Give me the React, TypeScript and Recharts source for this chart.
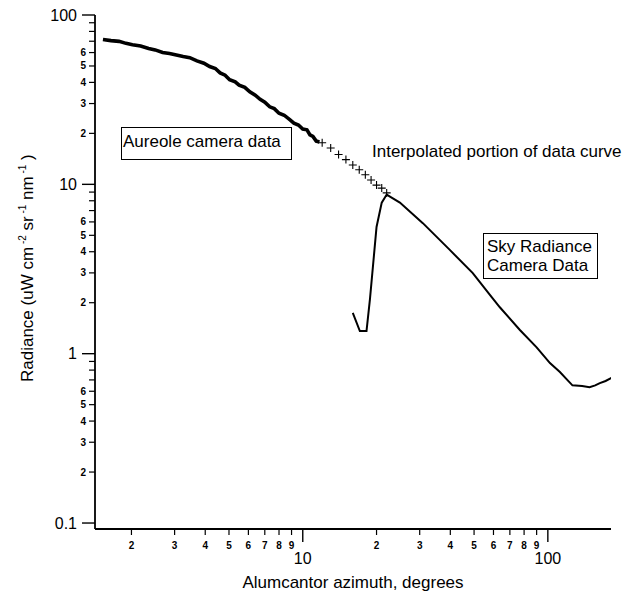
import { LineChart, Line, XAxis, YAxis } from 'recharts';

// aureole camera data (noisy band at small angles)
const aureoleX = [1.53, 1.65, 1.78, 1.9, 2.02, 2.18, 2.35, 2.5, 2.68, 2.86, 3.05, 3.25, 3.46, 3.7, 3.95, 4.17, 4.4, 4.6, 4.82, 5.03, 5.3, 5.5, 5.8, 6.08, 6.4, 6.7, 7.0, 7.33, 7.65, 8.0, 8.4, 8.85, 9.2, 9.6, 10.0, 10.4, 10.7, 11.0, 11.35, 11.7];
const aureoleY = [71.7, 70.6, 69.9, 68.0, 66.8, 65.6, 63.4, 62.2, 60.0, 59.2, 58.0, 56.8, 56.0, 53.6, 51.9, 49.6, 48.3, 45.5, 44.1, 41.5, 40.3, 38.5, 37.4, 35.2, 33.6, 31.8, 30.6, 28.7, 28.0, 26.3, 25.6, 24.1, 23.0, 22.4, 21.2, 21.0, 19.6, 19.2, 18.0, 17.8];

// interpolated portion (crosses)
const interpX = [12, 13, 14, 15, 16, 17, 18, 19, 20, 21, 22];
const interpY = [17.6, 16.4, 15.0, 14.0, 13.0, 12.2, 11.4, 10.6, 9.9, 9.5, 8.9];

// sky radiance camera data
const skyX = [16.0, 17.1, 18.2, 18.8, 20.0, 21.0, 22.0, 24.9, 30.9, 39.8, 49.4, 59.0, 63.7, 76.9, 90, 102, 112, 120, 126, 138, 148, 156, 163, 172, 182];
const skyY = [1.74, 1.36, 1.36, 2.1, 5.6, 7.8, 8.7, 7.8, 5.9, 4.1, 2.99, 2.16, 1.88, 1.38, 1.09, 0.88, 0.78, 0.70, 0.65, 0.645, 0.634, 0.65, 0.67, 0.69, 0.72];

const xTicks = [2, 3, 4, 5, 6, 7, 8, 9, 10, 20, 30, 40, 50, 60, 70, 80, 90, 100];
const yTicks = [0.1, 0.2, 0.3, 0.4, 0.5, 0.6, 0.7, 0.8, 0.9, 1, 2, 3, 4, 5, 6, 7, 8, 9, 10, 20, 30, 40, 50, 60, 70, 80, 90, 100];
const majorLabels: Record<string, string> = { '0.1': '0.1', '1': '1', '10': '10', '100': '100' };

const aureoleData = aureoleX.map((x, i) => ({ x, y: aureoleY[i] }));
const interpData = interpX.map((x, i) => ({ x, y: interpY[i] }));
const skyData = skyX.map((x, i) => ({ x, y: skyY[i] }));

const mantissa = (v: number) => Math.round(v / Math.pow(10, Math.floor(Math.log10(v) + 1e-9)));

const YTick = (props: any) => {
  const { x, y, payload } = props;
  const v = payload.value;
  const major = majorLabels[String(v)];
  const m = mantissa(v);
  if (major) {
    return (
      <g>
        <line x1={x - 13} x2={x} y1={y} y2={y} stroke='#000' strokeWidth={1.4} />
        <text x={x - 18} y={y} textAnchor='end' dominantBaseline='central' fontSize={16} fill='#000'>
          {major}
        </text>
      </g>
    );
  }
  return (
    <g>
      <line x1={x - 6} x2={x} y1={y} y2={y} stroke='#000' strokeWidth={1.2} />
      {m <= 6 && (
        <text x={x - 9} y={y} textAnchor='end' dominantBaseline='central' fontSize={10} fontWeight={600} fill='#000'>
          {m}
        </text>
      )}
    </g>
  );
};

const XTick = (props: any) => {
  const { x, y, payload } = props;
  const v = payload.value;
  const major = v === 10 || v === 100;
  if (major) {
    return (
      <g>
        <line x1={x} x2={x} y1={y} y2={y + 13} stroke='#000' strokeWidth={1.4} />
        <text x={x} y={y + 29} textAnchor='middle' dominantBaseline='central' fontSize={16} fill='#000'>
          {v}
        </text>
      </g>
    );
  }
  return (
    <g>
      <line x1={x} x2={x} y1={y} y2={y + 6} stroke='#000' strokeWidth={1.2} />
      <text x={x} y={y + 16} textAnchor='middle' dominantBaseline='central' fontSize={10} fontWeight={600} fill='#000'>
        {mantissa(v)}
      </text>
    </g>
  );
};

const Cross = (props: any) => {
  const { cx, cy } = props;
  return <path d={`M${cx - 4},${cy}H${cx + 4}M${cx},${cy - 4}V${cy + 4}`} stroke='#000' strokeWidth={1.1} fill='none' />;
};

const YLabel = () => (
  <text transform='translate(33,382) rotate(-90)' textAnchor='start' fontSize={17} fill='#000'>
    Radiance (uW cm
    <tspan dy={-7} fontSize={10}> -2</tspan>
    <tspan dy={7}> sr</tspan>
    <tspan dy={-7} fontSize={10}> -1</tspan>
    <tspan dy={7}> nm</tspan>
    <tspan dy={-7} fontSize={10}> -1</tspan>
    <tspan dy={7}>{'  )'}</tspan>
  </text>
);

const App = () => {
  return (
    <div
      style={{
        position: 'absolute',
        left: 0,
        top: 0,
        width: 629,
        height: 594,
        background: '#fff',
        fontFamily: '"Liberation Sans", Arial, sans-serif',
        color: '#000',
      }}
    >
      <LineChart width={629} height={594} margin={{ top: 15, right: 18, bottom: 0, left: 0 }}>
        <XAxis
          dataKey='x'
          type='number'
          scale='log'
          domain={[1.42, 181]}
          allowDataOverflow
          ticks={xTicks}
          interval={0}
          tick={<XTick />}
          tickLine={false}
          tickSize={0}
          tickMargin={0}
          height={65}
          axisLine={{ stroke: '#000', strokeWidth: 1.8 }}
          label={{
            value: 'Alumcantor azimuth, degrees',
            position: 'insideBottom',
            offset: 6,
            fontSize: 17,
            fill: '#000',
          }}
        />
        <YAxis
          dataKey='y'
          type='number'
          scale='log'
          domain={[0.0922, 100]}
          allowDataOverflow
          ticks={yTicks}
          interval={0}
          tick={<YTick />}
          tickLine={false}
          tickSize={0}
          tickMargin={0}
          width={95}
          axisLine={{ stroke: '#000', strokeWidth: 1.8 }}
          label={{ content: () => <YLabel /> }}
        />
        <Line
          data={aureoleData}
          dataKey='y'
          stroke='#000'
          strokeWidth={3.6}
          dot={false}
          type='linear'
          isAnimationActive={false}
        />
        <Line
          data={interpData}
          dataKey='y'
          stroke='none'
          dot={(p: any) => <Cross key={`c${p.index}`} {...p} />}
          type='linear'
          isAnimationActive={false}
        />
        <Line
          data={skyData}
          dataKey='y'
          stroke='#000'
          strokeWidth={2}
          dot={false}
          type='linear'
          isAnimationActive={false}
        />
      </LineChart>
      <div
        style={{
          position: 'absolute',
          left: 121,
          top: 127,
          width: 171,
          height: 33,
          border: '1px solid #000',
          boxSizing: 'border-box',
        }}
      >
        <div style={{ position: 'absolute', left: 1, top: 4, fontSize: 17, lineHeight: '20px', whiteSpace: 'nowrap' }}>
          Aureole camera data
        </div>
      </div>
      <div style={{ position: 'absolute', left: 372, top: 142, fontSize: 17, lineHeight: '20px', whiteSpace: 'nowrap' }}>
        Interpolated portion of data curve
      </div>
      <div
        style={{
          position: 'absolute',
          left: 483,
          top: 233,
          width: 115,
          height: 46,
          border: '1px solid #000',
          boxSizing: 'border-box',
        }}
      >
        <div style={{ position: 'absolute', left: 3, top: 3, fontSize: 17, lineHeight: '19px', whiteSpace: 'nowrap' }}>
          Sky Radiance
          <br />
          Camera Data
        </div>
      </div>
    </div>
  );
};

export default App;
